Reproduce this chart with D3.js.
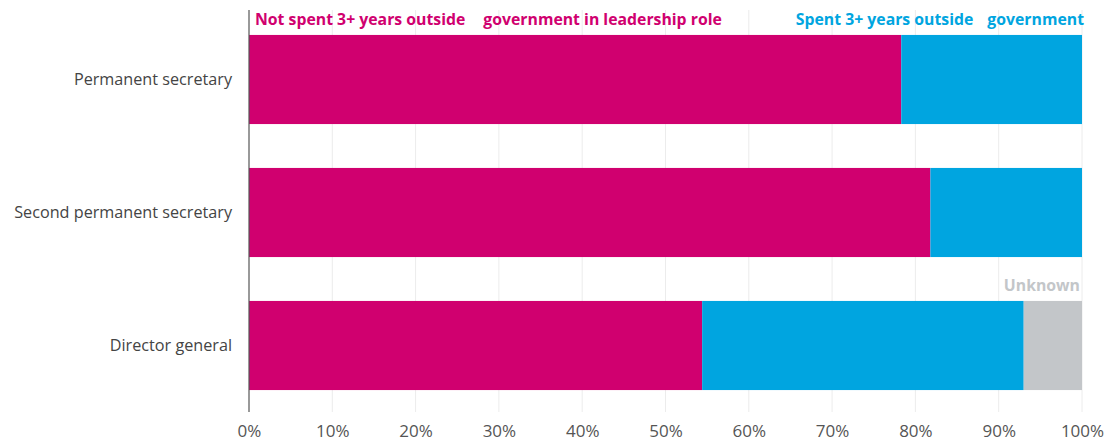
<!DOCTYPE html>
<html><head><meta charset="utf-8">
<script src="https://cdn.jsdelivr.net/npm/d3@7"></script>
<style>body{margin:0;background:#fff;}svg{display:block;font-family:"Open Sans","Noto Sans",sans-serif;}</style>
</head><body>
<svg id="c" width="1113" height="444"></svg>
<script>
const categories = ["Permanent secretary","Second permanent secretary","Director general"];
const notSpent = [78.3, 81.8, 54.4];
const spent = [21.7, 18.2, 38.6];
const unknown = [0, 0, 7.0];
const seriesNames = ["Not spent 3+ years outside government in leadership role","Spent 3+ years outside government","Unknown"];
const colors = ["#d0006f","#00a5e0","#c3c6c9"];
const ticks = [0,10,20,30,40,50,60,70,80,90,100];

const svg = d3.select("#c");
const x = d3.scaleLinear().domain([0,100]).range([249,1082]);
const y = d3.scaleBand().domain(categories).range([13,412]).paddingInner(0.33).paddingOuter(0.165);

// gridlines
svg.append("g").selectAll("line").data(ticks.slice(1)).join("line")
  .attr("x1",d=>x(d)).attr("x2",d=>x(d)).attr("y1",10).attr("y2",412)
  .attr("stroke","#ececec").attr("stroke-width",1);

const stackData = categories.map((c,i)=>({cat:c, a:notSpent[i], b:spent[i], u:unknown[i]}));
const stack = d3.stack().keys(["a","b","u"])(stackData);
svg.append("g").selectAll("g").data(stack).join("g").attr("fill",(d,i)=>colors[i])
  .selectAll("rect").data(d=>d).join("rect")
  .attr("x",d=>x(d[0])).attr("width",d=>x(d[1])-x(d[0]))
  .attr("y",d=>y(d.data.cat)).attr("height",y.bandwidth());

// axis line
svg.append("line").attr("x1",x(0)).attr("x2",x(0)).attr("y1",10).attr("y2",412)
  .attr("stroke","#555").attr("stroke-width",1.2);

// x tick labels
const xAxis = d3.axisBottom(x).tickValues(ticks).tickFormat(d=>d+"%").tickSize(0).tickPadding(0);
const gx = svg.append("g").attr("transform","translate(0,425)").call(xAxis);
gx.select(".domain").remove();
gx.selectAll("text").attr("font-size",17).attr("fill","#555").attr("font-family","'Open Sans','Noto Sans',sans-serif");

// y labels
const yAxis = d3.axisLeft(y).tickSize(0).tickPadding(0);
const gy = svg.append("g").attr("transform","translate(232,0)").call(yAxis);
gy.select(".domain").remove();
gy.selectAll("text").attr("font-size",16.2).attr("fill","#444").attr("font-family","'Open Sans','Noto Sans',sans-serif");

// series labels
const l1 = svg.append("text").attr("x",255).attr("y",25).attr("fill",colors[0])
  .attr("font-size",15.8).attr("font-weight","bold");
l1.append("tspan").text("Not spent 3+ years outside");
l1.append("tspan").attr("dx",18).text("government in leadership role");
const l2 = svg.append("text").attr("x",1084).attr("y",25).attr("fill",colors[1])
  .attr("font-size",15.8).attr("font-weight","bold").attr("text-anchor","end");
l2.append("tspan").text("Spent 3+ years outside");
l2.append("tspan").attr("dx",14).text("government");
svg.append("text").attr("x",1080).attr("y",291).attr("fill",colors[2])
  .attr("font-size",15.8).attr("font-weight","bold").attr("text-anchor","end").text(seriesNames[2]);
</script>
</body></html>
